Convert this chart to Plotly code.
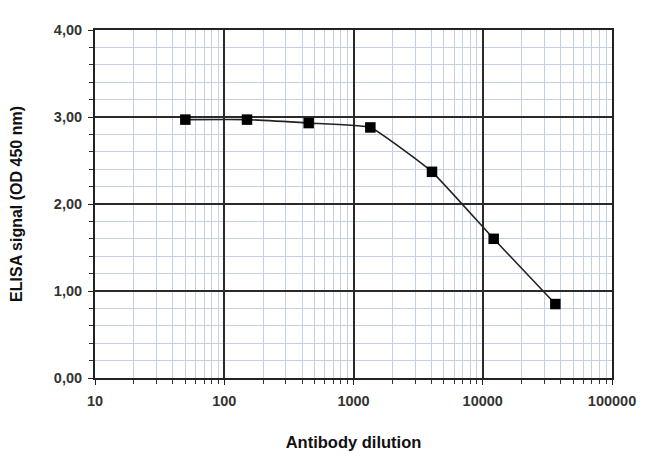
import plotly.graph_objects as go

dilution = [50, 150, 450, 1350, 4050, 12150, 36450]
signal = [2.97, 2.97, 2.93, 2.88, 2.37, 1.60, 0.85]

x_tickvals = [10, 100, 1000, 10000, 100000]
x_ticktext = ["10", "100", "1000", "10000", "100000"]
y_tickvals = [0, 1, 2, 3, 4]

x_minor = [d * k for d in x_tickvals[:-1] for k in range(2, 10)]

font_family = "Liberation Sans, Arial, sans-serif"

fig = go.Figure()
fig.add_trace(go.Scatter(
    x=dilution, y=signal, mode="lines+markers",
    line=dict(color="#222222", width=1.6, shape="spline", smoothing=0.35),
    marker=dict(symbol="square", size=10.5, color="#000000"),
    showlegend=False,
))

fig.update_layout(
    width=650, height=458,
    margin=dict(l=87, r=46, t=22, b=88),
    paper_bgcolor="white", plot_bgcolor="white",
    separators=",.",
    font=dict(family=font_family, color="#222222"),
    xaxis=dict(
        type="log", range=[1, 5], automargin=False,
        tickmode="array", tickvals=x_tickvals, ticktext=x_ticktext,
        showgrid=True, gridcolor="#2a2a2a", gridwidth=1.5,
        showline=True, linecolor="#222222", linewidth=2, mirror=True,
        ticks="outside", ticklen=5, tickcolor="#222222",
        ticklabelstandoff=4,
        tickfont=dict(family=font_family, size=14.5, weight="bold", color="#333333"),
        minor=dict(tickmode="array", tickvals=x_minor, showgrid=True,
                   gridcolor="#c3d1e0", gridwidth=1,
                   ticks="outside", ticklen=4, tickcolor="#333333"),
        title=dict(text="Antibody dilution", standoff=28,
                   font=dict(family=font_family, size=16.5, weight="bold", color="#111111")),
        zeroline=False,
    ),
    yaxis=dict(
        range=[0, 4], automargin=False,
        tickmode="array", tickvals=y_tickvals, tickformat=".2f",
        showgrid=True, gridcolor="#2a2a2a", gridwidth=1.5,
        showline=True, linecolor="#222222", linewidth=2, mirror=True,
        ticks="outside", ticklen=5, tickcolor="#222222",
        ticklabelstandoff=3,
        tickfont=dict(family=font_family, size=14.5, weight="bold", color="#333333"),
        minor=dict(dtick=0.2, showgrid=True, gridcolor="#c3d1e0", gridwidth=1,
                   ticks="outside", ticklen=4, tickcolor="#333333"),
        title=dict(text="ELISA signal (OD 450 nm)", standoff=32,
                   font=dict(family=font_family, size=16, weight="bold", color="#111111")),
        zeroline=False,
    ),
)

fig.write_html("out.html")
